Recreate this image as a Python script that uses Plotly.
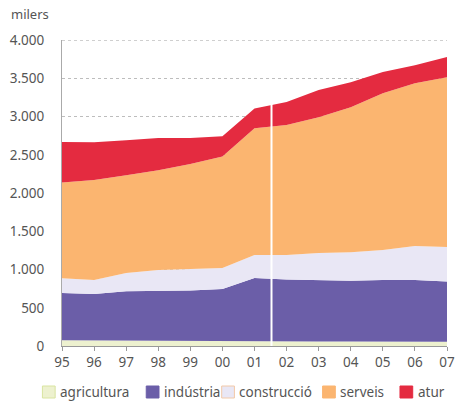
import plotly.graph_objects as go

# Population by activity (thousands), stacked
years = [1995, 1996, 1997, 1998, 1999, 2000, 2001, 2002, 2003, 2004, 2005, 2006, 2007]
year_labels = ["95", "96", "97", "98", "99", "00", "01", "02", "03", "04", "05", "06", "07"]

agricultura = [75, 72, 70, 68, 66, 65, 64, 62, 60, 60, 58, 57, 56]
industria = [618, 608, 645, 652, 661, 680, 824, 808, 800, 795, 804, 806, 789]
construccio = [192, 183, 239, 273, 279, 275, 302, 320, 356, 370, 393, 444, 449]
serveis = [1255, 1307, 1281, 1307, 1374, 1460, 1660, 1700, 1777, 1899, 2052, 2131, 2222]
atur = [530, 497, 458, 420, 340, 265, 257, 303, 357, 326, 278, 235, 266]

y_ticks = [0, 500, 1000, 1500, 2000, 2500, 3000, 3500, 4000]
y_tick_labels = ["0", "500", "1.000", "1.500", "2.000", "2.500", "3.000", "3.500", "4.000"]

series_names = ["agricultura", "indústria", "construcció", "serveis", "atur"]
series_values = [agricultura, industria, construccio, serveis, atur]
fill_colors = ["#edf1cf", "#6b5ea8", "#e9e7f5", "#fbb570", "#e42b40"]
edge_colors = ["#d9e4a0", "#6b5ea8", "#f2c9a8", "#fbb570", "#e42b40"]

FONT = "Noto Sans"
TEXT_COLOR = "#555555"
GRID_COLOR = "#bdbdbd"

fig = go.Figure()
for name, vals, col in zip(series_names, series_values, fill_colors):
    fig.add_trace(go.Scatter(
        x=years, y=vals, name=name, mode="lines",
        stackgroup="one", line=dict(width=0, color=col),
        fillcolor=col, showlegend=False,
    ))

# top gridline at the upper end of the range
fig.add_shape(type="line", xref="paper", yref="y", layer="below",
              x0=0, x1=1, y0=y_ticks[-1], y1=y_ticks[-1],
              line=dict(color=GRID_COLOR, width=1, dash="dot"))

# thin white fold line crossing the stacked area
fig.add_shape(type="line", xref="x", yref="y",
              x0=2001.53, x1=2001.53, y0=0, y1=3190,
              line=dict(color="white", width=2))

# legend row under the axis
legend_x = [42, 148, 225, 328, 407]
plot_left, plot_w = 62, 393
plot_bottom, plot_h = 346, 306
for name, px, fc, ec in zip(series_names, legend_x, fill_colors, edge_colors):
    x0 = (px - plot_left) / plot_w
    x1 = (px + 13 - plot_left) / plot_w
    y0 = -(398 - plot_bottom) / plot_h
    y1 = -(386 - plot_bottom) / plot_h
    fig.add_shape(type="rect", xref="paper", yref="paper",
                  x0=x0, x1=x1, y0=y0, y1=y1,
                  fillcolor=fc, line=dict(color=ec, width=1))
    fig.add_annotation(xref="paper", yref="paper",
                       x=(px + 16 - plot_left) / plot_w, y=-(392 - plot_bottom) / plot_h,
                       text=name, showarrow=False, xanchor="left", yanchor="middle",
                       font=dict(family=FONT, size=13.5, color=TEXT_COLOR))

fig.add_annotation(xref="paper", yref="paper",
                   x=-(plot_left - 8) / plot_w, y=1 + (40 - 14) / plot_h,
                   text="milers", showarrow=False, xanchor="left", yanchor="middle",
                   font=dict(family=FONT, size=13, color=TEXT_COLOR))

fig.update_layout(
    width=455, height=407,
    margin=dict(l=62, r=0, t=40, b=61),
    paper_bgcolor="white", plot_bgcolor="white",
    font=dict(family=FONT, size=13, color=TEXT_COLOR),
)
fig.update_xaxes(
    range=[1995, 2007], tickvals=years, ticktext=year_labels,
    showline=True, linecolor="#999999", linewidth=1,
    ticks="outside", ticklen=4, tickcolor="#999999",
    showgrid=False, zeroline=False, ticklabeloverflow="allow",
    tickfont=dict(family=FONT, size=13.5, color=TEXT_COLOR),
)
fig.update_yaxes(
    range=[0, 4003], tickvals=y_ticks, ticktext=y_tick_labels,
    showline=True, linecolor="#aaaaaa", linewidth=1,
    ticks="", showgrid=True, gridcolor=GRID_COLOR, griddash="dot", gridwidth=1,
    zeroline=False, ticklabelstandoff=14,
    tickfont=dict(family=FONT, size=13.5, color=TEXT_COLOR),
)

fig.write_html("out.html")
